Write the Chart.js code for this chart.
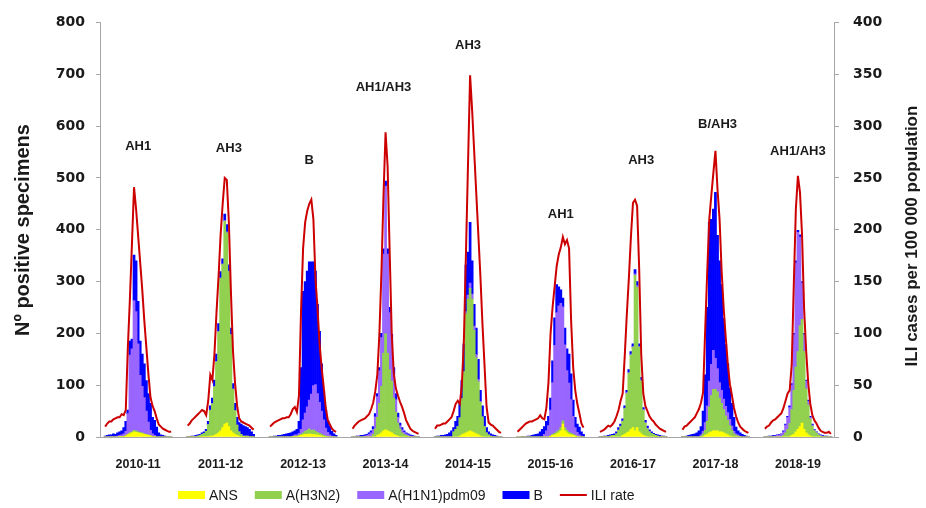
<!DOCTYPE html>
<html>
<head>
<meta charset="utf-8">
<script src="https://cdn.jsdelivr.net/npm/chart.js@4.4.1/dist/chart.umd.min.js"></script>
<style>
  html, body { margin: 0; padding: 0; background: #fff; }
</style>
</head>
<body>
<canvas id="chart" width="926" height="508"></canvas>
<script>
// seasons, weekly data from week 40 to week 20 (33 weeks each)
const seasons = ['2010-11', '2011-12', '2012-13', '2013-14', '2014-15', '2015-16', '2016-17', '2017-18', '2018-19'];

// dominant virus written over each epidemic peak
const peakLabels = ['AH1', 'AH3', 'B', 'AH1/AH3', 'AH3', 'AH1', 'AH3', 'B/AH3', 'AH1/AH3'];
const peakLabelWeek = [16, 20, 19, 15, 16, 21, 20, 17, 16];
const peakLabelLevel = [561, 556, 533, 674, 756, 430, 533, 603, 552];

const ans = [
  [0,0,0,0,0,0,0,1,1,1,2,4,6,8,10,9,8,7,6,5,4,3,2,1,1,0,0,0,0,0,0,0,0],
  [0,0,0,0,0,0,0,1,1,1,1,2,2,3,5,8,12,18,25,27,20,12,8,5,3,2,1,1,0,0,0,0,0],
  [0,0,0,0,0,0,0,0,0,0,0,1,1,1,2,3,4,5,5,6,5,5,4,4,3,2,1,1,0,0,0,0,0],
  [0,0,0,0,0,0,0,0,0,0,0,1,3,5,8,12,14,12,10,8,5,3,2,1,0,0,0,0,0,0,0,0,0],
  [0,0,0,0,0,0,0,0,0,0,0,0,2,4,6,8,10,12,10,8,6,4,2,1,0,0,0,0,0,0,0,0,0],
  [0,0,0,0,0,0,0,0,0,0,0,0,0,0,0,0,2,3,4,6,8,12,25,12,8,5,4,3,2,1,0,0,0],
  [0,0,0,0,0,0,0,0,0,0,0,3,5,8,10,15,18,12,18,10,6,3,2,1,0,0,0,0,0,0,0,0,0],
  [0,0,0,0,0,0,0,0,0,0,1,3,5,8,10,12,12,12,10,10,8,6,4,2,1,0,0,0,0,0,0,0,0],
  [0,0,0,0,0,0,0,0,0,0,0,0,1,3,5,10,15,20,27,15,8,4,2,1,0,0,0,0,0,0,0,0,0]
];

const h3n2 = [
  [0,0,0,0,0,0,0,0,0,0,1,1,2,2,3,3,2,2,2,1,1,1,1,0,0,0,0,0,0,0,0,0,0],
  [0,0,1,1,1,2,3,4,6,10,23,49,62,94,140,195,294,315,391,367,299,185,84,46,20,8,4,1,2,2,1,1,0],
  [0,0,0,0,0,0,0,0,0,0,0,0,1,1,1,2,4,6,8,10,8,9,7,5,4,3,2,1,1,0,0,0,0],
  [0,0,0,0,0,0,0,0,0,0,5,15,35,60,90,150,185,150,120,100,70,45,25,15,8,5,3,2,0,0,0,0,0],
  [0,0,0,0,0,0,0,0,0,10,15,20,35,70,120,229,256,275,256,198,147,103,65,38,20,8,4,2,1,0,0,0,0],
  [0,0,0,0,0,0,0,0,0,0,0,0,0,0,0,0,0,2,3,4,5,6,6,6,5,4,3,2,1,0,0,0,0],
  [0,0,1,1,1,2,3,3,6,13,20,27,50,76,113,143,155,300,271,163,102,49,25,15,10,7,5,3,2,1,1,1,0],
  [0,0,0,0,0,0,0,0,0,2,5,10,25,50,70,80,80,75,65,55,45,35,28,20,12,6,3,2,1,0,0,0,0],
  [0,0,0,0,0,0,0,0,0,3,8,15,25,50,85,125,150,195,200,150,85,58,33,20,12,8,4,2,1,1,1,0,0]
];

const h1n1 = [
  [0,0,0,1,1,1,2,2,3,5,8,40,150,160,250,230,170,110,90,70,45,25,10,5,2,0,0,0,0,0,0,0,0],
  [0,0,0,0,0,0,0,0,0,0,0,1,1,1,1,1,1,1,2,2,1,1,1,0,0,0,0,0,0,0,0,0,0],
  [0,0,0,0,0,0,0,0,1,1,1,1,2,2,4,10,25,35,45,55,70,85,90,75,60,45,30,15,8,4,2,1,0],
  [0,0,1,1,1,1,2,3,5,8,10,23,40,63,94,191,285,191,110,80,47,24,11,6,6,4,3,2,2,2,1,0,0],
  [0,0,0,0,0,0,0,0,0,0,0,0,0,0,0,5,8,10,10,8,6,4,2,0,0,0,0,0,0,0,0,0,0],
  [0,0,0,0,0,0,0,0,0,0,0,0,0,5,12,22,50,100,170,230,240,240,220,160,115,95,65,35,15,8,4,2,1],
  [0,0,0,0,0,0,0,0,0,1,1,1,1,2,2,2,2,3,3,2,2,1,1,1,1,0,0,0,0,0,0,0,0],
  [0,0,0,0,0,0,0,0,0,2,5,15,30,50,60,75,60,45,30,25,20,18,15,12,8,5,3,2,1,0,0,0,0],
  [0,0,1,1,2,2,3,4,5,7,15,23,31,47,107,201,230,171,70,32,15,7,3,2,2,1,1,1,1,0,0,0,0]
];

const fluB = [
  [2,3,4,3,5,4,6,7,8,12,19,7,27,19,88,98,82,66,62,65,59,55,52,32,29,19,8,4,3,2,1,1,0],
  [1,1,1,1,2,2,2,3,3,4,6,8,10,12,14,15,12,10,12,14,12,12,10,14,15,18,20,20,18,16,14,9,5],
  [1,1,2,2,3,3,4,5,5,6,7,8,8,11,23,119,248,254,262,267,255,239,219,172,137,91,57,35,23,17,9,5,3],
  [1,1,1,1,2,2,2,2,3,4,5,6,6,6,8,10,10,10,10,10,12,12,8,5,4,3,2,2,2,1,1,1,1],
  [1,2,2,3,3,4,5,8,12,8,15,20,28,35,54,90,83,117,64,42,51,39,21,21,20,10,6,4,3,3,2,1,1],
  [0,0,1,1,1,2,2,3,4,5,6,10,15,15,18,18,23,42,53,54,37,26,17,32,42,56,50,31,20,16,15,8,4],
  [1,1,1,1,2,2,2,3,4,4,4,4,4,4,5,5,5,8,8,5,5,4,4,4,3,3,2,2,2,2,1,1,1],
  [1,1,2,3,4,5,6,8,12,16,39,92,190,306,280,273,320,257,235,204,156,120,94,61,44,27,13,8,6,5,3,2,1],
  [1,1,1,1,1,1,1,1,1,2,2,2,3,3,3,4,4,4,3,3,2,2,2,2,1,1,1,1,1,1,1,1,1]
];

const iliRate = [
  [10,13,15,15,17,18,19,19,22,21,26,86,133,187,241,220,194,168,142,112,86,60,38,30,25,18,12,10,8,7,6,5,5],
  [11,13,16,18,20,22,24,26,25,21,35,60,55,80,120,155,195,225,250,248,207,140,83,52,30,18,15,14,13,12,11,9,7],
  [10,12,14,15,16,17,18,18,19,19,22,27,29,24,40,121,182,207,218,225,229,210,153,124,90,67,48,28,16,12,8,6,5],
  [8,11,13,15,16,17,18,20,22,27,33,44,60,99,159,233,294,261,178,99,61,47,40,34,29,23,16,12,8,6,5,4,3],
  [8,11,11,12,13,13,15,17,19,25,32,35,32,50,94,178,264,349,315,275,235,195,155,109,69,29,14,12,11,9,7,5,4],
  [5,7,9,11,13,14,15,15,16,17,18,21,18,17,28,52,99,125,145,165,176,183,193,186,190,182,112,67,45,32,23,13,9],
  [5,6,7,9,11,10,12,15,20,26,35,42,78,118,153,193,226,229,223,163,80,42,30,25,20,17,15,12,10,8,7,6,5],
  [7,10,11,13,15,17,19,23,27,33,43,102,159,210,233,255,276,239,210,160,124,96,70,51,40,28,20,14,10,8,6,5,4],
  [8,10,11,14,16,17,19,21,23,28,35,42,45,70,147,220,252,236,195,124,83,52,32,21,16,13,9,6,5,4,4,5,3]
];

const LEAD = 2, GAP = 7, WEEKS = 33, MID = 16;
const TEXT = '#1a1a1a';
const AXIS = '#a6a6a6';

// lay the seasons out one after the other on the week axis, with empty weeks between them
const spread = perSeason => {
  const out = new Array(LEAD).fill(null);
  perSeason.forEach((weeks, s) => {
    out.push(...weeks);
    const tail = s < perSeason.length - 1 ? GAP : 1;
    for (let k = 0; k < tail; k++) out.push(null);
  });
  return out;
};

const labels = spread(seasons.map(name =>
  Array.from({ length: WEEKS }, (_, w) => (w === MID ? name : ''))
)).map(l => l || '');

const seasonStart = s => LEAD + s * (WEEKS + GAP);

const axisTitles = {
  id: 'axisTitles',
  afterDraw(chart) {
    const ctx = chart.ctx;
    ctx.save();
    ctx.fillStyle = TEXT;
    ctx.textAlign = 'center';
    ctx.textBaseline = 'middle';
    ctx.font = 'bold 20px "Liberation Sans"';
    ctx.translate(23, 230);
    ctx.rotate(-Math.PI / 2);
    ctx.fillText('Nº positive specimens', 0, 0);
    ctx.restore();

    ctx.save();
    ctx.fillStyle = TEXT;
    ctx.textAlign = 'center';
    ctx.textBaseline = 'middle';
    ctx.font = 'bold 17px "Liberation Sans"';
    ctx.translate(912, 236);
    ctx.rotate(-Math.PI / 2);
    ctx.fillText('ILI cases per 100 000 population', 0, 0);
    ctx.restore();
  }
};

const peakNotes = {
  id: 'peakNotes',
  afterDatasetsDraw(chart) {
    const { ctx, scales } = chart;
    ctx.save();
    ctx.fillStyle = TEXT;
    ctx.textAlign = 'center';
    ctx.textBaseline = 'middle';
    ctx.font = 'bold 13px "Liberation Sans"';
    peakLabels.forEach((txt, s) => {
      const x = scales.x.getPixelForValue(seasonStart(s) + peakLabelWeek[s]);
      const y = scales.y.getPixelForValue(peakLabelLevel[s]);
      ctx.fillText(txt, x, y);
    });
    ctx.restore();
  }
};

// legend drawn by hand so it sits where the original one sits
const bottomLegend = {
  id: 'bottomLegend',
  afterDraw(chart) {
    const ctx = chart.ctx;
    ctx.save();
    ctx.font = '14px "Liberation Sans"';
    ctx.textBaseline = 'middle';
    ctx.fillStyle = TEXT;
    let x = 178;
    const y = 495;
    chart.data.datasets.forEach(ds => {
      if (ds.type === 'line') {
        ctx.strokeStyle = ds.borderColor;
        ctx.lineWidth = 2;
        ctx.beginPath();
        ctx.moveTo(x, y);
        ctx.lineTo(x + 27, y);
        ctx.stroke();
      } else {
        ctx.fillStyle = ds.backgroundColor;
        ctx.fillRect(x, y - 4, 27, 8);
      }
      ctx.fillStyle = TEXT;
      ctx.fillText(ds.label, x + 31, y + 1);
      x += 31 + ctx.measureText(ds.label).width + 17;
    });
    ctx.restore();
  }
};

const barDefaults = { categoryPercentage: 1, barPercentage: 1, borderWidth: 0, yAxisID: 'y', order: 1 };

new Chart(document.getElementById('chart'), {
  type: 'bar',
  data: {
    labels: labels,
    datasets: [
      { ...barDefaults, label: 'ANS', data: spread(ans), backgroundColor: '#ffff00' },
      { ...barDefaults, label: 'A(H3N2)', data: spread(h3n2), backgroundColor: '#92d050' },
      { ...barDefaults, label: 'A(H1N1)pdm09', data: spread(h1n1), backgroundColor: '#9966ff' },
      { ...barDefaults, label: 'B', data: spread(fluB), backgroundColor: '#0000ff' },
      {
        type: 'line', label: 'ILI rate', data: spread(iliRate), yAxisID: 'y1', order: 0,
        borderColor: '#cc0000', borderWidth: 2, pointRadius: 0, tension: 0, spanGaps: false
      }
    ]
  },
  options: {
    responsive: false,
    animation: false,
    devicePixelRatio: 1,
    layout: { padding: { top: 18, left: 0, right: 0, bottom: 0 } },
    plugins: { legend: { display: false }, tooltip: { enabled: false } },
    scales: {
      x: {
        stacked: true,
        grid: { display: false },
        border: { display: true, color: AXIS },
        ticks: {
          autoSkip: false, maxRotation: 0, minRotation: 0, padding: 12, color: TEXT,
          font: { family: 'Liberation Sans', size: 12.5, weight: 'bold' }
        },
        afterFit(scale) { scale.height = 71; }
      },
      y: {
        position: 'left', stacked: true, min: 0, max: 800,
        grid: { drawOnChartArea: false, tickLength: 4, color: AXIS },
        border: { color: AXIS },
        ticks: { stepSize: 100, padding: 11, color: TEXT, font: { family: 'DejaVu Sans', size: 14, weight: 'bold' } },
        afterFit(scale) { scale.width = 100; }
      },
      y1: {
        position: 'right', min: 0, max: 400,
        grid: { drawOnChartArea: false, tickLength: 5, color: AXIS },
        border: { color: AXIS },
        ticks: { stepSize: 50, padding: 14, color: TEXT, font: { family: 'DejaVu Sans', size: 14, weight: 'bold' } },
        afterFit(scale) { scale.width = 92; }
      }
    }
  },
  plugins: [axisTitles, peakNotes, bottomLegend]
});
</script>
</body>
</html>
